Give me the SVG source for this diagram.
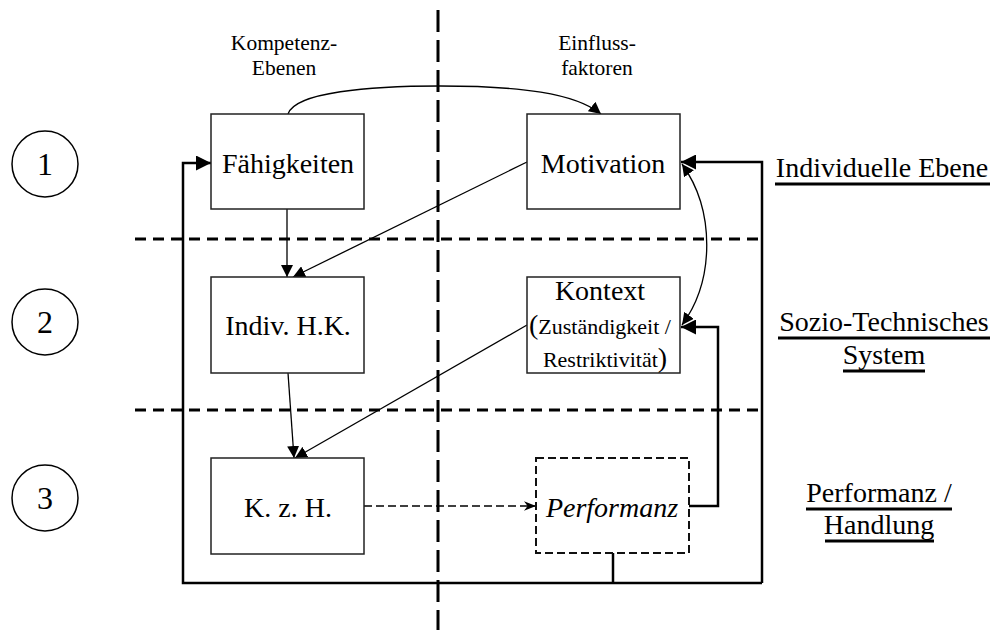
<svg xmlns="http://www.w3.org/2000/svg" width="996" height="630" viewBox="0 0 996 630">
<style>
.lbl{font-size:28px;text-anchor:middle}
.small{font-size:21.5px;text-anchor:middle}
.box{fill:#fff;stroke:#222;stroke-width:1.5}
.dbox{fill:#fff;stroke:#111;stroke-width:2;stroke-dasharray:8 4}
.thin{fill:none;stroke:#000;stroke-width:1.3}
.loop{fill:none;stroke:#000;stroke-width:2.5}
.sep{fill:none;stroke:#000;stroke-width:3;stroke-dasharray:11 7}
.vsep{fill:none;stroke:#000;stroke-width:3;stroke-dasharray:22 8}
.ul{stroke:#000;stroke-width:3}
.circ{fill:#fff;stroke:#000;stroke-width:1.5}
</style>
<defs>
<marker id="ah" viewBox="0 0 10 10" refX="10" refY="5" markerWidth="12" markerHeight="12" markerUnits="userSpaceOnUse" orient="auto-start-reverse"><path d="M0,0 L10,5 L0,10 z" fill="#000"/></marker>
<marker id="ahb" viewBox="0 0 10 10" refX="10" refY="5" markerWidth="15" markerHeight="15" markerUnits="userSpaceOnUse" orient="auto"><path d="M0,0 L10,5 L0,10 z" fill="#000"/></marker>
<marker id="ahd" viewBox="0 0 10 10" refX="10" refY="5" markerWidth="12" markerHeight="12" markerUnits="userSpaceOnUse" orient="auto"><path d="M0,1 L10,5 L0,9 L3,5 z" fill="#000"/></marker>
</defs>

<g id="separators">
<line class="vsep" x1="438" y1="10" x2="438" y2="630"/>
<line class="sep" x1="135" y1="239" x2="762" y2="239"/>
<line class="sep" x1="135" y1="410" x2="762" y2="410"/>
</g>

<g font-family="Liberation Serif, serif" fill="#000">
<g id="headers">
<text class="small" x="284" y="50">Kompetenz-</text>
<text class="small" x="284" y="75">Ebenen</text>
<text class="small" x="597" y="50">Einfluss-</text>
<text class="small" x="597" y="75">faktoren</text>
</g>

<g id="levels">
<g id="level1"><circle class="circ" cx="45" cy="164" r="33"/><text class="lbl" style="font-size:32px" x="45" y="175">1</text></g>
<g id="level2"><circle class="circ" cx="45" cy="322" r="33"/><text class="lbl" style="font-size:32px" x="45" y="333">2</text></g>
<g id="level3"><circle class="circ" cx="45" cy="498" r="33"/><text class="lbl" style="font-size:32px" x="45" y="509">3</text></g>
</g>
</g>

<g id="connectors">
<path class="thin" d="M288,114 C295,92 370,86 440,86 C520,86 575,93 601,114" marker-end="url(#ah)"/>
<line class="thin" x1="287" y1="209" x2="287" y2="277" marker-end="url(#ah)"/>
<line class="thin" x1="527" y1="162" x2="293" y2="277" marker-end="url(#ah)"/>
<line class="thin" x1="288" y1="373" x2="294" y2="458" marker-end="url(#ah)"/>
<line class="thin" x1="527" y1="325" x2="295" y2="458" marker-end="url(#ah)"/>
<path class="thin" d="M682,325 C715,280 715,210 682,164" marker-start="url(#ah)" marker-end="url(#ah)"/>
<line class="thin" x1="364" y1="506" x2="536" y2="506" stroke-dasharray="8 4" marker-end="url(#ahd)"/>
<polyline class="loop" points="689,506 718,506 718,327 681,327" marker-end="url(#ahb)"/>
<polyline class="loop" points="613,553 613,583" />
<polyline class="loop" points="762,583 183,583 183,163 211,163" marker-end="url(#ahb)"/>
<polyline class="loop" points="762,583 762,162 681,162" marker-end="url(#ahb)"/>
</g>

<g font-family="Liberation Serif, serif" fill="#000">
<g id="faehigkeiten"><rect class="box" x="211" y="114" width="153" height="95"/><text class="lbl" x="288" y="173">Fähigkeiten</text></g>
<g id="motivation"><rect class="box" x="527" y="114" width="153" height="95"/><text class="lbl" x="603" y="173">Motivation</text></g>
<g id="indiv"><rect class="box" x="211" y="277" width="153" height="96"/><text class="lbl" x="288" y="335">Indiv. H.K.</text></g>
<g id="kontext"><rect class="box" x="527" y="277" width="153" height="96"/>
<text class="lbl" x="600" y="300">Kontext</text>
<text font-size="22" text-anchor="middle" x="600" y="334"><tspan font-size="28">(</tspan>Zuständigkeit /</text>
<text font-size="22" text-anchor="middle" x="605" y="367">Restriktivität<tspan font-size="28">)</tspan></text>
</g>
<g id="kzh"><rect class="box" x="211" y="458" width="153" height="96"/><text class="lbl" x="288" y="517">K. z. H.</text></g>
<g id="performanz"><rect class="dbox" x="536" y="458" width="153" height="95"/><text class="lbl" x="612" y="517" font-style="italic">Performanz</text></g>

<g id="labels">
<text class="lbl" x="882" y="177">Individuelle Ebene</text>
<line class="ul" x1="775" y1="184" x2="990" y2="184"/>
<text class="lbl" x="884" y="331">Sozio-Technisches</text>
<line class="ul" x1="778" y1="338" x2="990" y2="338"/>
<text class="lbl" x="884" y="364">System</text>
<line class="ul" x1="843" y1="371" x2="925" y2="371"/>
<text class="lbl" x="879" y="502">Performanz /</text>
<line class="ul" x1="806" y1="509" x2="952" y2="509"/>
<text class="lbl" x="879" y="534">Handlung</text>
<line class="ul" x1="825" y1="541" x2="934" y2="541"/>
</g>
</g>
</svg>
